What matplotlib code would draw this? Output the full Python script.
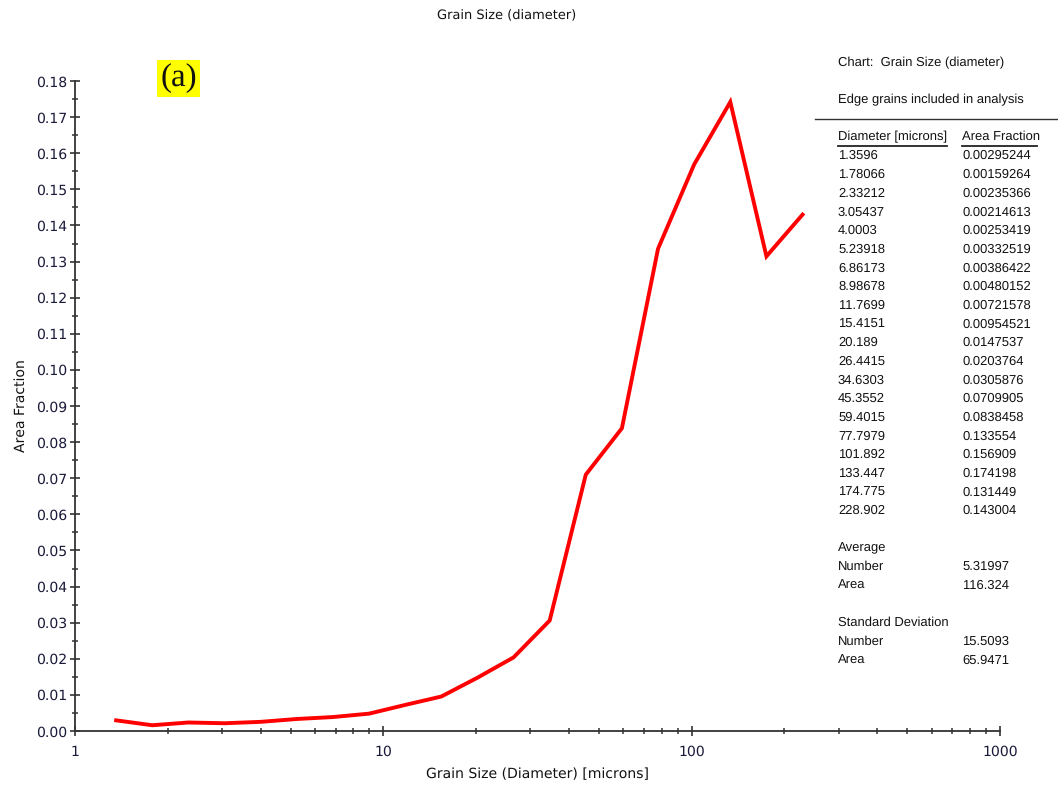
import matplotlib
matplotlib.use("Agg")
import matplotlib.pyplot as plt
from matplotlib.ticker import FixedLocator, NullFormatter, FuncFormatter

plt.rcParams["text.hinting"] = "no_hinting"
plt.rcParams["text.hinting_factor"] = 1

diameter = [1.3596, 1.78066, 2.33212, 3.05437, 4.0003, 5.23918, 6.86173, 8.98678,
            11.7699, 15.4151, 20.189, 26.4415, 34.6303, 45.3552, 59.4015, 77.7979,
            101.892, 133.447, 174.775, 228.902]
area_fraction = [0.00295244, 0.00159264, 0.00235366, 0.00214613, 0.00253419, 0.00332519,
                 0.00386422, 0.00480152, 0.00721578, 0.00954521, 0.0147537, 0.0203764,
                 0.0305876, 0.0709905, 0.0838458, 0.133554, 0.156909, 0.174198,
                 0.131449, 0.143004]
diameter_labels = ["1.3596", "1.78066", "2.33212", "3.05437", "4.0003", "5.23918", "6.86173",
                   "8.98678", "11.7699", "15.4151", "20.189", "26.4415", "34.6303", "45.3552",
                   "59.4015", "77.7979", "101.892", "133.447", "174.775", "228.902"]
fraction_labels = ["0.00295244", "0.00159264", "0.00235366", "0.00214613", "0.00253419",
                   "0.00332519", "0.00386422", "0.00480152", "0.00721578", "0.00954521",
                   "0.0147537", "0.0203764", "0.0305876", "0.0709905", "0.0838458",
                   "0.133554", "0.156909", "0.174198", "0.131449", "0.143004"]
y_ticks = [0.00, 0.01, 0.02, 0.03, 0.04, 0.05, 0.06, 0.07, 0.08, 0.09,
           0.10, 0.11, 0.12, 0.13, 0.14, 0.15, 0.16, 0.17, 0.18]
x_ticks = [1, 10, 100, 1000]
stats = [("Average", None), ("Number", "5.31997"), ("Area", "116.324"),
         ("Standard Deviation", None), ("Number", "15.5093"), ("Area", "65.9471")]

W, H = 1058, 793
fig = plt.figure(figsize=(W / 100, H / 100), dpi=100)
ax = fig.add_axes([75 / W, 1 - 731 / H, (1000 - 75) / W, (731 - 81) / H])

ax.plot(diameter, area_fraction, color="#ff0000", lw=2.8, solid_joinstyle="miter")
ax.set_xscale("log")
ax.set_xlim(1, 1000)
ax.set_ylim(0, 0.18)

for s in ("top", "right"):
    ax.spines[s].set_visible(False)
for s in ("left", "bottom"):
    ax.spines[s].set_color("#333333")
    ax.spines[s].set_linewidth(1.3)

tick_color = "#1a1a3a"
ax.yaxis.set_major_locator(FixedLocator(y_ticks))
ax.yaxis.set_major_formatter(FuncFormatter(lambda v, p: f"{v:.2f}"))
ax.yaxis.set_minor_locator(FixedLocator([t + 0.005 for t in y_ticks[:-1]]))
ax.xaxis.set_major_locator(FixedLocator(x_ticks))
ax.xaxis.set_major_formatter(FuncFormatter(lambda v, p: f"{int(v)}"))
minors = [m * d for d in (1, 10, 100) for m in range(2, 10)]
ax.xaxis.set_minor_locator(FixedLocator(minors))
ax.xaxis.set_minor_formatter(NullFormatter())

ax.tick_params(axis="both", which="major", direction="inout", length=7, width=1.2,
               color="#333333", labelsize=10, labelcolor=tick_color, pad=2)
ax.tick_params(axis="both", which="minor", direction="inout", length=4, width=1.1,
               color="#333333")
ax.tick_params(axis="x", which="major", pad=7)

ax.set_xlabel("Grain Size (Diameter) [microns]", fontsize=10, color="#111111", labelpad=6)
ax.set_ylabel("Area Fraction", fontsize=10, color="#111111", labelpad=6)

def fx(x):
    return x / W

def fy(y):
    return 1 - y / H

fig.text(fx(507), fy(16), "Grain Size (diameter)", ha="center", va="center",
         fontsize=9.5, color="#111111")

fig.text(fx(178.5), fy(78.5), "(a)", ha="center", va="center", fontsize=24,
         family="Liberation Serif", color="#111111",
         bbox=dict(boxstyle="square,pad=0.1", facecolor="#ffff00", edgecolor="none"))

tf = dict(fontsize=9.0, family="Liberation Sans", color="#111111", va="center", ha="left")
c1, c2 = 838, 962
fig.text(fx(c1), fy(63), "Chart:  Grain Size (diameter)", **tf)
fig.text(fx(c1), fy(100), "Edge grains included in analysis", **tf)
fig.add_artist(plt.Line2D([fx(815), fx(1058)], [fy(119), fy(119)], color="#333333", lw=1.0))
fig.text(fx(c1), fy(137), "Diameter [microns]", **tf)
fig.text(fx(c2), fy(137), "Area Fraction", **tf)
fig.add_artist(plt.Line2D([fx(838), fx(947)], [fy(146), fy(146)], color="#222222", lw=1.3))
fig.add_artist(plt.Line2D([fx(962), fx(1037)], [fy(146), fy(146)], color="#222222", lw=1.3))

row0, step = 156, (511 - 156) / 19
for i, (d, f) in enumerate(zip(diameter_labels, fraction_labels)):
    y = row0 + i * step
    fig.text(fx(c1), fy(y), d, **tf)
    fig.text(fx(c2), fy(y), f, **tf)

stat_y = [548, 567, 586, 623, 642, 661]
for (name, val), y in zip(stats, stat_y):
    fig.text(fx(c1), fy(y), name, **tf)
    if val is not None:
        fig.text(fx(c2), fy(y), val, **tf)

fig.savefig("out.png", dpi=100, facecolor="white")
